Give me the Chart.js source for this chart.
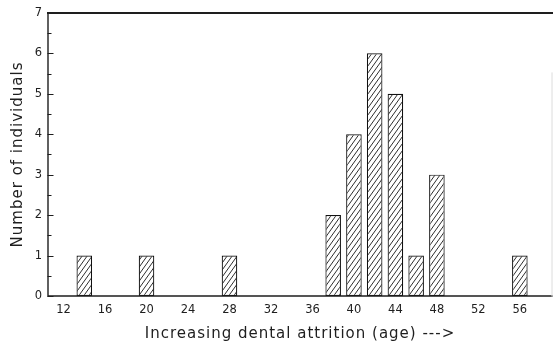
<!DOCTYPE html>
<html>
<head>
<meta charset="utf-8">
<script src="https://cdn.jsdelivr.net/npm/chart.js@4/dist/chart.umd.min.js"></script>
<style>
    html, body { margin: 0; padding: 0; background: #fff; overflow: hidden; }
    #wrap { width: 553px; height: 343px; }
</style>
</head>
<body>
<div id="wrap"><canvas id="chart"></canvas></div>
<script>
// attrition score (age class) and number of individuals
const ageClasses  = [14, 20, 28, 38, 40, 42, 44, 46, 48, 56];
const individuals = [1, 1, 1, 2, 4, 6, 5, 1, 3, 1];
const xTicks      = [12, 16, 20, 24, 28, 32, 36, 40, 44, 48, 52, 56];
const yTicks      = [0, 1, 2, 3, 4, 5, 6, 7];

const ink = '#1e1e1e';

// steep "/" hatching: tile w x h, one diagonal per tile
function hatchPattern() {
    const w = 5, h = 7;
    const c = document.createElement('canvas');
    c.width = w;
    c.height = h;
    const ctx = c.getContext('2d');
    ctx.fillStyle = '#fff';
    ctx.fillRect(0, 0, w, h);
    ctx.strokeStyle = '#2e2e2e';
    ctx.lineWidth = 1;
    ctx.beginPath();
    for (const dx of [-w, 0, w]) {
        ctx.moveTo(dx, h); ctx.lineTo(dx + w, 0);
    }
    ctx.stroke();
    return ctx.createPattern(c, 'repeat');
}

// wider lettering for the axis titles, like the typed original
function spreadTitle(scale) {
    if (scale._spread) return;
    const orig = scale.drawTitle.bind(scale);
    scale.drawTitle = function () {
        const ctx = this.ctx;
        const prev = ctx.letterSpacing;
        ctx.letterSpacing = '1px';
        orig();
        ctx.letterSpacing = prev || '0px';
    };
    scale._spread = true;
}

// box round the plot plus inward y ticks (major + half steps)
const framePlugin = {
    id: 'frame',
    beforeDraw(chart) {
        spreadTitle(chart.scales.x);
        spreadTitle(chart.scales.y);
    },
    afterDatasetsDraw(chart) {
        const { ctx, chartArea: a, scales } = chart;
        const y = scales.y;
        ctx.save();
        ctx.strokeStyle = ink;
        ctx.lineCap = 'square';

        ctx.lineWidth = 2;
        ctx.beginPath();
        ctx.moveTo(a.left, a.top); ctx.lineTo(a.right, a.top);
        ctx.stroke();

        ctx.lineWidth = 1.4;
        ctx.beginPath();
        ctx.moveTo(a.left, a.top); ctx.lineTo(a.left, a.bottom); ctx.lineTo(a.right, a.bottom);
        ctx.stroke();

        ctx.strokeStyle = '#dcdcdc';
        ctx.lineWidth = 1;
        ctx.beginPath();
        ctx.moveTo(a.right, a.top + 60); ctx.lineTo(a.right, a.bottom);
        ctx.stroke();

        ctx.strokeStyle = ink;
        ctx.lineWidth = 1;
        ctx.beginPath();
        for (let v = y.min; v <= y.max; v += 0.5) {
            const py = Math.round(y.getPixelForValue(v)) + 0.5;
            const len = Number.isInteger(v) ? 5 : 3;
            ctx.moveTo(a.left, py); ctx.lineTo(a.left + len, py);
        }
        ctx.stroke();
        ctx.restore();
    },
};

new Chart(document.getElementById('chart'), {
    type: 'bar',
    data: {
        datasets: [{
            data: ageClasses.map((x, i) => ({ x: x, y: individuals[i] })),
            backgroundColor: hatchPattern(),
            borderColor: '#111',
            borderWidth: 1.2,
            borderSkipped: false,
            barPercentage: 0.75,
            categoryPercentage: 1,
        }],
    },
    options: {
        responsive: true,
        maintainAspectRatio: false,
        animation: false,
        layout: { padding: { top: 12, right: 1, left: 0, bottom: 0 } },
        plugins: { legend: { display: false }, tooltip: { enabled: false } },
        scales: {
            x: {
                type: 'linear',
                min: 10.5,
                max: 59.1,
                offset: false,
                grid: { display: false, drawTicks: false },
                border: { display: false },
                afterBuildTicks: s => { s.ticks = xTicks.map(v => ({ value: v })); },
                afterFit: s => { s.height = 47; },
                ticks: {
                    padding: 7,
                    color: ink,
                    maxRotation: 0,
                    font: { family: 'DejaVu Sans', size: 11.5 },
                },
                title: {
                    display: true,
                    text: 'Increasing dental attrition (age) --->',
                    color: ink,
                    padding: { top: 7, bottom: 0 },
                    font: { family: 'DejaVu Sans', size: 15 },
                },
            },
            y: {
                min: 0,
                max: 7,
                grid: { display: false, drawTicks: false },
                border: { display: false },
                afterBuildTicks: s => { s.ticks = yTicks.map(v => ({ value: v })); },
                afterFit: s => { s.width = 48; },
                ticks: {
                    padding: 6,
                    color: ink,
                    font: { family: 'DejaVu Sans', size: 11.5 },
                },
                title: {
                    display: true,
                    text: 'Number of individuals',
                    color: ink,
                    padding: { top: 9, bottom: 0 },
                    font: { family: 'DejaVu Sans', size: 15 },
                },
            },
        },
    },
    plugins: [framePlugin],
});
</script>
</body>
</html>
